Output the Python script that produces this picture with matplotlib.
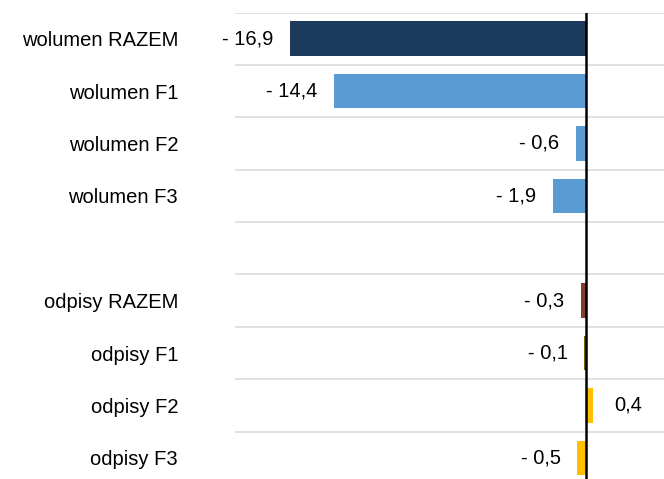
import matplotlib
matplotlib.use("Agg")
import matplotlib.pyplot as plt
import numpy as np

# data (blank row = gap)
categories = ["wolumen RAZEM", "wolumen F1", "wolumen F2", "wolumen F3", "",
              "odpisy RAZEM", "odpisy F1", "odpisy F2", "odpisy F3"]
values = [-16.9, -14.4, -0.6, -1.9, np.nan, -0.3, -0.1, 0.4, -0.5]
colors = ["#1B3A5C", "#5B9BD5", "#5B9BD5", "#5B9BD5", "white",
          "#843C2C", "#7F6000", "#FFC000", "#FFC000"]

plt.rcParams["font.family"] = ["Liberation Sans", "DejaVu Sans"]

fig = plt.figure(figsize=(6.64, 4.79), dpi=100)
ax = fig.add_axes([235 / 664, -5 / 479, 1 - 235 / 664, 471.5 / 479])

y = np.arange(len(categories))
vals = np.nan_to_num(values)
ax.barh(y, vals, height=0.66, color=colors, zorder=2)

# row separators
for b in np.arange(len(categories) + 1) - 0.5:
    ax.axhline(b, color="#D9D9D9", lw=1.1, zorder=1)
ax.axvline(0, color="black", lw=1.8, zorder=3)

for yi, v in zip(y, values):
    if np.isnan(v):
        continue
    txt = ("- " if v < 0 else "") + f"{abs(v):.1f}".replace(".", ",")
    off = -12 if v < 0 else 15.5
    ax.annotate(txt, (v, yi), xytext=(off, 0), textcoords="offset points",
                ha="right" if v < 0 else "left", va="center", fontsize=14.5)

ax.set_xlim(-20.05, 4.45)
ax.set_ylim(len(categories) - 0.5, -0.5)
ax.set_yticks(y)
ax.set_yticklabels(categories, fontsize=14.5)
ax.tick_params(axis="y", length=0, pad=41)
ax.set_xticks([])
for s in ax.spines.values():
    s.set_visible(False)

fig.savefig("out.png", dpi=100)
